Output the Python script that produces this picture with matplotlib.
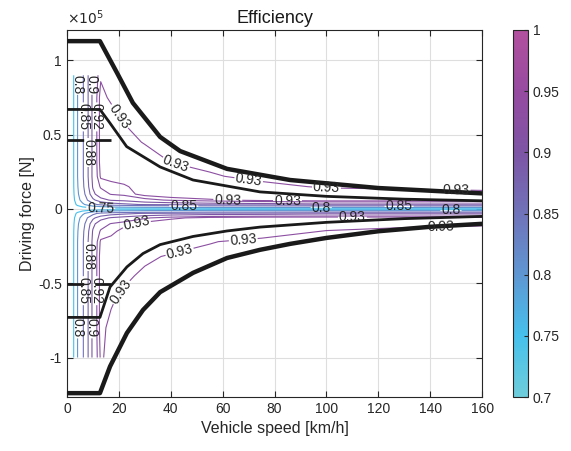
import numpy as np
import matplotlib
matplotlib.use("Agg")
import matplotlib.pyplot as plt
import matplotlib.colors as mcolors
import matplotlib.cm as cm
from matplotlib.ticker import FuncFormatter

plt.rcParams['font.family'] = ['Liberation Sans', 'DejaVu Sans']

# ── efficiency map (speed km/h x force 1e5 N) ────────────────────────────
SPEED = [0, 2, 4, 6, 8, 10, 13, 17, 22, 30, 40, 55, 75, 100, 130, 160]
FORCE = [0.9, 0.75, 0.6, 0.45, 0.32, 0.22, 0.15, 0.1, 0.06, 0.03, 0.01, 0,
         -0.01, -0.03, -0.06, -0.1, -0.15, -0.22, -0.32, -0.45, -0.6, -0.8, -1.0]
EFF = [
    [0.70, 0.73, 0.798, 0.845, 0.878, 0.905, 0.928, 0.925, 0.925, 0.925, 0.925, 0.925, 0.925, 0.925, 0.925, 0.925],
    [0.70, 0.73, 0.798, 0.845, 0.878, 0.905, 0.935, 0.927, 0.925, 0.925, 0.925, 0.925, 0.925, 0.925, 0.925, 0.925],
    [0.70, 0.73, 0.798, 0.845, 0.878, 0.905, 0.935, 0.938, 0.928, 0.925, 0.925, 0.925, 0.925, 0.925, 0.925, 0.925],
    [0.70, 0.73, 0.798, 0.845, 0.878, 0.905, 0.935, 0.940, 0.940, 0.928, 0.925, 0.925, 0.925, 0.925, 0.925, 0.925],
    [0.70, 0.73, 0.798, 0.845, 0.878, 0.905, 0.935, 0.940, 0.945, 0.945, 0.929, 0.925, 0.925, 0.925, 0.925, 0.925],
    [0.70, 0.73, 0.798, 0.845, 0.878, 0.905, 0.932, 0.935, 0.940, 0.945, 0.945, 0.932, 0.925, 0.925, 0.925, 0.925],
    [0.70, 0.73, 0.795, 0.842, 0.875, 0.902, 0.922, 0.925, 0.927, 0.940, 0.945, 0.945, 0.935, 0.928, 0.926, 0.925],
    [0.70, 0.728, 0.79, 0.835, 0.868, 0.895, 0.912, 0.921, 0.924, 0.935, 0.940, 0.942, 0.942, 0.940, 0.938, 0.935],
    [0.70, 0.725, 0.78, 0.82, 0.852, 0.875, 0.893, 0.902, 0.905, 0.915, 0.922, 0.928, 0.935, 0.938, 0.938, 0.935],
    [0.70, 0.72, 0.76, 0.79, 0.815, 0.84, 0.86, 0.87, 0.875, 0.882, 0.885, 0.888, 0.89, 0.895, 0.895, 0.895],
    [0.70, 0.71, 0.73, 0.74, 0.748, 0.765, 0.775, 0.785, 0.79, 0.795, 0.798, 0.805, 0.805, 0.805, 0.805, 0.805],
    [0.70, 0.70, 0.70, 0.70, 0.70, 0.70, 0.70, 0.70, 0.70, 0.70, 0.70, 0.70, 0.70, 0.70, 0.70, 0.70],
    [0.70, 0.71, 0.73, 0.74, 0.748, 0.765, 0.775, 0.785, 0.79, 0.795, 0.798, 0.805, 0.805, 0.805, 0.805, 0.805],
    [0.70, 0.72, 0.76, 0.79, 0.815, 0.84, 0.86, 0.87, 0.875, 0.882, 0.885, 0.888, 0.89, 0.895, 0.895, 0.895],
    [0.70, 0.725, 0.78, 0.82, 0.852, 0.875, 0.893, 0.902, 0.908, 0.918, 0.927, 0.935, 0.938, 0.938, 0.938, 0.935],
    [0.70, 0.728, 0.79, 0.835, 0.868, 0.895, 0.912, 0.921, 0.926, 0.935, 0.940, 0.942, 0.942, 0.940, 0.935, 0.932],
    [0.70, 0.73, 0.795, 0.842, 0.875, 0.902, 0.922, 0.926, 0.935, 0.940, 0.945, 0.945, 0.940, 0.929, 0.925, 0.925],
    [0.70, 0.73, 0.798, 0.845, 0.878, 0.905, 0.932, 0.935, 0.940, 0.945, 0.945, 0.931, 0.925, 0.925, 0.925, 0.925],
    [0.70, 0.73, 0.798, 0.845, 0.878, 0.905, 0.935, 0.940, 0.945, 0.935, 0.927, 0.925, 0.925, 0.925, 0.925, 0.925],
    [0.70, 0.73, 0.798, 0.845, 0.878, 0.905, 0.935, 0.940, 0.935, 0.925, 0.925, 0.925, 0.925, 0.925, 0.925, 0.925],
    [0.70, 0.73, 0.798, 0.845, 0.878, 0.905, 0.935, 0.933, 0.925, 0.925, 0.925, 0.925, 0.925, 0.925, 0.925, 0.925],
    [0.70, 0.73, 0.798, 0.845, 0.878, 0.905, 0.935, 0.925, 0.925, 0.925, 0.925, 0.925, 0.925, 0.925, 0.925, 0.925],
    [0.70, 0.73, 0.798, 0.845, 0.878, 0.905, 0.932, 0.925, 0.925, 0.925, 0.925, 0.925, 0.925, 0.925, 0.925, 0.925],
]
LEVELS = [0.75, 0.8, 0.85, 0.88, 0.9, 0.92, 0.93]

# where the contour labels sit (speed km/h, force 1e5 N)
LABEL_V = [4, 6.2, 8, 9.6, 11.5, 20, 42, 70, 100, 150,
           13, 45, 62, 85, 98, 110, 128, 148, 27,
           24, 44, 68, 144, 6.2, 8, 9.6, 11.5, 3.5]
LABEL_F = [0.84, 0.62, 0.38, 0.84, 0.62, 0.62, 0.31, 0.19, 0.14, 0.125,
           0.008, 0.02, 0.07, 0.06, 0.008, -0.06, 0.02, -0.01, -0.12,
           -0.6, -0.33, -0.22, -0.1, -0.55, -0.32, -0.8, -0.55, -0.8]

# ── limit curves (speed km/h, force 1e5 N) ───────────────────────────────
MAX_V = [0, 12.7, 19.3, 25.4, 35.9, 43.6, 61.7, 86, 120, 160]
MAX_F = [1.13, 1.13, 0.916, 0.714, 0.485, 0.39, 0.27, 0.195, 0.141, 0.105]
CONT_V = [0, 12.7, 16.5, 23, 35.9, 48.6, 74.4, 100, 130, 160]
CONT_F = [0.67, 0.67, 0.58, 0.42, 0.283, 0.195, 0.115, 0.085, 0.066, 0.055]
REGEN_MAX_V = [0, 12.7, 16.6, 23.1, 29.3, 35.9, 48.6, 61.7, 74.4, 86, 100, 120, 140, 160]
REGEN_MAX_F = [-1.24, -1.24, -1.06, -0.835, -0.68, -0.56, -0.43, -0.33, -0.275, -0.235, -0.195, -0.15, -0.12, -0.10]
REGEN_CONT_V = [0, 12.7, 16.6, 23.1, 29.3, 35.9, 48.6, 61.7, 74.4, 100, 130, 160]
REGEN_CONT_F = [-0.73, -0.73, -0.525, -0.39, -0.30, -0.24, -0.185, -0.148, -0.122, -0.09, -0.065, -0.05]
DASH_V = [0, 17]
DASH_F_UP = [0.465, 0.465]
DASH_F_DN = [-0.505, -0.505]

# ── colormap ─────────────────────────────────────────────────────────────
cmap = mcolors.LinearSegmentedColormap.from_list("eff", [
    (0.0, (110/255, 205/255, 218/255)),
    (1/6, (70/255, 192/255, 236/255)),
    (2/6, (95/255, 150/255, 210/255)),
    (3/6, (112/255, 115/255, 185/255)),
    (4/6, (125/255, 85/255, 165/255)),
    (5/6, (150/255, 75/255, 160/255)),
    (1.0, (178/255, 80/255, 158/255)),
])
norm = mcolors.Normalize(vmin=0.7, vmax=1.0)

fig = plt.figure(figsize=(5.71, 4.51), dpi=100)
ax = fig.add_axes([0.1173, 0.1197, 0.727, 0.8138])
cax = fig.add_axes([0.898, 0.1197, 0.0263, 0.8138])

F_N = np.array(FORCE)[::-1] * 1e5
Z = np.array(EFF)[::-1]
cs = ax.contour(SPEED, F_N, Z, levels=LEVELS, cmap=cmap, norm=norm, linewidths=0.8, zorder=2)
ax.set_xlim(0, 160)
ax.set_ylim(-1.266e5, 1.205e5)
ax.clabel(cs, fmt='%g', fontsize=10, inline=True, inline_spacing=1, colors='#262626',
          manual=list(zip(LABEL_V, np.array(LABEL_F) * 1e5)))

ax.plot(MAX_V, np.array(MAX_F) * 1e5, color='#1a1a1a', lw=3.2, zorder=3)
ax.plot(CONT_V, np.array(CONT_F) * 1e5, color='#1a1a1a', lw=2.0, zorder=3)
ax.plot(REGEN_MAX_V, np.array(REGEN_MAX_F) * 1e5, color='#1a1a1a', lw=3.2, zorder=3)
ax.plot(REGEN_CONT_V, np.array(REGEN_CONT_F) * 1e5, color='#1a1a1a', lw=2.0, zorder=3)
ax.plot(DASH_V, np.array(DASH_F_UP) * 1e5, color='#1a1a1a', lw=2.0, dashes=(6, 4), zorder=3)
ax.plot(DASH_V, np.array(DASH_F_DN) * 1e5, color='#1a1a1a', lw=2.0, dashes=(6, 4), zorder=3)

ax.set_xticks(np.arange(0, 161, 20))
ax.set_yticks([-1e5, -0.5e5, 0, 0.5e5, 1e5])
ax.yaxis.set_major_formatter(FuncFormatter(lambda y, _: f"{y/1e5:g}"))
ax.text(0, 1.008, r"$\times10^{5}$", transform=ax.transAxes, fontsize=10,
        color='#262626', va='bottom', ha='left')
ax.grid(True, color='#dedede', lw=0.8)
ax.set_axisbelow(True)
ax.tick_params(direction='in', top=True, right=True, labelsize=10, colors='#262626', length=4)
for s in ax.spines.values():
    s.set_color('#262626')
    s.set_linewidth(0.8)

ax.set_title("Efficiency", fontsize=13, color='#1a1a1a', pad=5)
ax.set_xlabel("Vehicle speed [km/h]", fontsize=11.5, color='#262626')
ax.set_ylabel("Driving force [N]", fontsize=11.5, color='#262626', labelpad=2)

sm = cm.ScalarMappable(cmap=cmap, norm=norm)
sm.set_array([])
cbar = fig.colorbar(sm, cax=cax)
cbar.set_ticks([0.7, 0.75, 0.8, 0.85, 0.9, 0.95, 1.0])
cbar.ax.yaxis.set_major_formatter(FuncFormatter(lambda y, _: f"{y:g}"))
cbar.ax.tick_params(direction='in', labelsize=10, colors='#262626', length=3)
cbar.outline.set_edgecolor('#262626')
cbar.outline.set_linewidth(0.8)

fig.savefig("out.png", dpi=100)
